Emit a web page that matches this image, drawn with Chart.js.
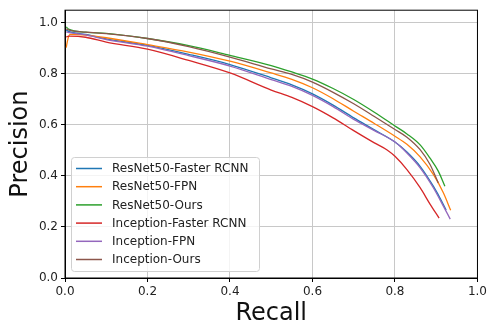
<!DOCTYPE html>
<html>
<head>
<meta charset="utf-8">
<script src="https://cdn.jsdelivr.net/npm/chart.js@4"></script>
<style>
  body { margin: 0; background: #fff; }
  canvas { display: block; }
</style>
</head>
<body>
<canvas id="prChart" width="490" height="328"></canvas>
<script>
// Data
const seriesNames = ["ResNet50-Faster RCNN", "ResNet50-FPN", "ResNet50-Ours",
                     "Inception-Faster RCNN", "Inception-FPN", "Inception-Ours"];
const seriesColors = ["#1f77b4", "#ff7f0e", "#2ca02c", "#d62728", "#9467bd", "#8c564b"];

const recallResFrcnn = [0.003, 0.01, 0.05, 0.1, 0.2, 0.3, 0.4, 0.5, 0.55, 0.6, 0.65, 0.7, 0.75, 0.8, 0.829, 0.861, 0.893, 0.913, 0.924];
const precResFrcnn   = [0.972, 0.966, 0.955, 0.938, 0.912, 0.877, 0.837, 0.785, 0.757, 0.722, 0.678, 0.628, 0.581, 0.533, 0.494, 0.438, 0.36, 0.302, 0.266];

const recallResFpn = [0.003, 0.006, 0.012, 0.05, 0.1, 0.2, 0.3, 0.4, 0.5, 0.55, 0.6, 0.65, 0.7, 0.75, 0.8, 0.829, 0.861, 0.893, 0.917, 0.935];
const precResFpn   = [0.903, 0.93, 0.955, 0.952, 0.942, 0.915, 0.886, 0.85, 0.804, 0.779, 0.746, 0.703, 0.654, 0.606, 0.556, 0.524, 0.475, 0.406, 0.335, 0.266];

const recallResOurs = [0.003, 0.01, 0.05, 0.1, 0.2, 0.3, 0.4, 0.5, 0.55, 0.6, 0.65, 0.7, 0.75, 0.8, 0.829, 0.861, 0.885, 0.905, 0.921];
const precResOurs   = [0.984, 0.975, 0.964, 0.959, 0.939, 0.911, 0.873, 0.833, 0.808, 0.78, 0.743, 0.70, 0.65, 0.596, 0.565, 0.522, 0.47, 0.419, 0.36];

const recallIncFrcnn = [0.003, 0.01, 0.05, 0.1, 0.2, 0.3, 0.4, 0.5, 0.55, 0.6, 0.65, 0.7, 0.75, 0.781, 0.8, 0.829, 0.861, 0.885, 0.907];
const precIncFrcnn   = [0.945, 0.948, 0.944, 0.925, 0.897, 0.853, 0.804, 0.737, 0.708, 0.672, 0.628, 0.578, 0.53, 0.502, 0.477, 0.425, 0.354, 0.29, 0.235];

const recallIncFpn = [0.003, 0.01, 0.05, 0.1, 0.2, 0.3, 0.4, 0.5, 0.55, 0.6, 0.65, 0.7, 0.75, 0.8, 0.829, 0.861, 0.893, 0.917, 0.934];
const precIncFpn   = [0.965, 0.962, 0.953, 0.935, 0.909, 0.872, 0.831, 0.778, 0.751, 0.716, 0.672, 0.622, 0.578, 0.533, 0.49, 0.432, 0.354, 0.283, 0.231];

const recallIncOurs = [0.003, 0.01, 0.05, 0.1, 0.2, 0.3, 0.4, 0.5, 0.55, 0.6, 0.65, 0.7, 0.75, 0.8, 0.829, 0.861, 0.885, 0.905];
const precIncOurs   = [0.977, 0.972, 0.964, 0.958, 0.939, 0.907, 0.866, 0.82, 0.798, 0.768, 0.728, 0.683, 0.633, 0.582, 0.552, 0.503, 0.445, 0.373];

const xTicks = [0, 0.2, 0.4, 0.6, 0.8, 1.0];
const yTicks = [0, 0.2, 0.4, 0.6, 0.8, 1.0];

const recalls = [recallResFrcnn, recallResFpn, recallResOurs, recallIncFrcnn, recallIncFpn, recallIncOurs];
const precisions = [precResFrcnn, precResFpn, precResOurs, precIncFrcnn, precIncFpn, precIncOurs];

const FONT = "'DejaVu Sans', sans-serif";

const datasets = seriesNames.map((name, i) => ({
  label: name,
  data: recalls[i].map((r, j) => ({ x: r, y: precisions[i][j] })),
  borderColor: seriesColors[i],
  backgroundColor: seriesColors[i],
  borderWidth: 1.3,
  pointRadius: 0,
  cubicInterpolationMode: "monotone",
  fill: false,
  order: seriesNames.length - i
}));

// top/right spines + matplotlib-style legend box
const framePlugin = {
  id: "frame",
  afterDraw(chart) {
    const { ctx, chartArea: a } = chart;
    ctx.save();
    ctx.strokeStyle = "#000";
    ctx.lineWidth = 1;
    ctx.strokeRect(a.left, a.top, a.right - a.left, a.bottom - a.top);

    // legend
    const bx = 71.5, by = 157.5, bw = 188, bh = 114;
    ctx.fillStyle = "rgba(255,255,255,0.8)";
    ctx.strokeStyle = "#d0d0d0";
    ctx.beginPath();
    ctx.roundRect(bx, by, bw, bh, 3);
    ctx.fill();
    ctx.stroke();

    ctx.font = "12px " + FONT;
    ctx.textBaseline = "middle";
    ctx.textAlign = "left";
    chart.data.datasets.forEach((ds, i) => {
      const y = 168.5 + i * 18.2;
      ctx.strokeStyle = ds.borderColor;
      ctx.lineWidth = 1.5;
      ctx.beginPath();
      ctx.moveTo(76, y);
      ctx.lineTo(102, y);
      ctx.stroke();
      ctx.fillStyle = "#222";
      ctx.fillText(ds.label, 112, y + 0.5);
    });
    ctx.restore();
  }
};

new Chart(document.getElementById("prChart"), {
  type: "line",
  data: { datasets },
  plugins: [framePlugin],
  options: {
    responsive: false,
    animation: false,
    layout: { padding: { top: 8, right: 9, left: 0, bottom: 0 } },
    plugins: { legend: { display: false }, tooltip: { enabled: false } },
    scales: {
      x: {
        type: "linear",
        min: 0,
        max: 1,
        afterBuildTicks: s => { s.ticks = xTicks.map(v => ({ value: v })); },
        afterFit: s => { s.height = 50; },
        ticks: {
          color: "#222",
          padding: 3,
          maxRotation: 0,
          font: { family: FONT, size: 12 },
          callback: v => v.toFixed(1)
        },
        grid: { color: "#c8c8c8", lineWidth: 1, tickColor: "#000", tickLength: 4 },
        border: { display: true, color: "#000", width: 1 },
        title: {
          display: true,
          text: "Recall",
          color: "#111",
          font: { family: FONT, size: 24 },
          padding: { top: 0, bottom: 0 }
        }
      },
      y: {
        type: "linear",
        min: 0,
        max: 1.05,
        afterBuildTicks: s => { s.ticks = yTicks.map(v => ({ value: v })); },
        afterFit: s => { s.width = 65; },
        ticks: {
          color: "#222",
          padding: 3,
          font: { family: FONT, size: 12 },
          callback: v => v.toFixed(1)
        },
        grid: { color: "#c8c8c8", lineWidth: 1, tickColor: "#000", tickLength: 4 },
        border: { display: true, color: "#000", width: 1 },
        title: {
          display: true,
          text: "Precision",
          color: "#111",
          font: { family: FONT, size: 24 },
          padding: { top: 6, bottom: 0 }
        }
      }
    }
  }
});
</script>
</body>
</html>
